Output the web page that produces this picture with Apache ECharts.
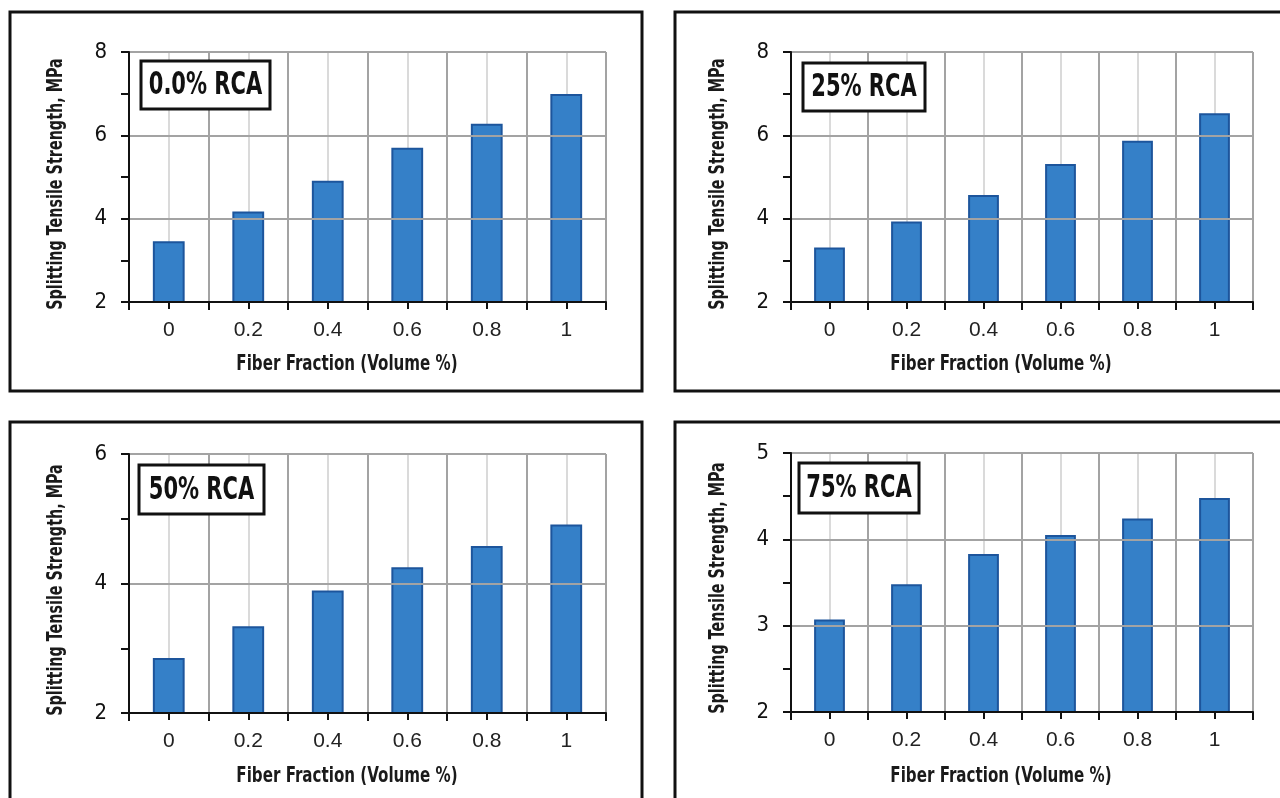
<!DOCTYPE html>
<html>
<head>
<meta charset="utf-8">
<script src="https://cdn.jsdelivr.net/npm/echarts@6/dist/echarts.min.js"></script>
<style>
html,body{margin:0;padding:0;background:#fff;}
#chart{width:1280px;height:798px;}
</style>
</head>
<body>
<div id="chart"></div>
<script>
// ---- data ----
const categories = ['0', '0.2', '0.4', '0.6', '0.8', '1'];
const rca0  = [3.46, 4.17, 4.91, 5.70, 6.28, 6.99];
const rca25 = [3.31, 3.93, 4.57, 5.31, 5.87, 6.53];
const rca50 = [2.85, 3.34, 3.89, 4.25, 4.58, 4.91];
const rca75 = [3.07, 3.48, 3.83, 4.05, 4.24, 4.48];
const panelTitles = ['0.0% RCA', '25% RCA', '50% RCA', '75% RCA'];
const yMin = [2, 2, 2, 2];
const yMax = [8, 8, 6, 5];
const yStep = [2, 2, 2, 1];
const yTitle = 'Splitting Tensile Strength, MPa';
const xTitle = 'Fiber Fraction (Volume %)';

// ---- layout / style ----
const COND = '"DejaVu Sans Condensed", "DejaVu Sans", sans-serif';
const REG = '"Liberation Sans", Arial, Helvetica, sans-serif';
const grids = [
  {left: 129, top: 52, width: 477, height: 250},
  {left: 791, top: 52, width: 462, height: 250},
  {left: 129, top: 454, width: 477, height: 259},
  {left: 791, top: 453, width: 462, height: 259}
];
const frames = [
  {x: 10, y: 12, width: 632, height: 379},
  {x: 675, y: 12, width: 620, height: 379},
  {x: 10, y: 422, width: 632, height: 400},
  {x: 675, y: 422, width: 620, height: 400}
];
const labelBoxes = [
  {x: 141, y: 61, width: 129, height: 48},
  {x: 803, y: 63, width: 122, height: 48},
  {x: 139, y: 465, width: 125, height: 49},
  {x: 799, y: 463, width: 120, height: 50}
];
const yTitlePos = [[57, 184], [719, 184], [57, 590], [719, 588]];
const xTitlePos = [[347, 365], [1001, 365], [347, 777], [1001, 777]];
const seriesData = [rca0, rca25, rca50, rca75];

const graphics = [];
frames.forEach(f => graphics.push({
  type: 'rect', shape: f, silent: true, z: 100,
  style: {fill: 'none', stroke: '#111', lineWidth: 3}
}));
labelBoxes.forEach((b, i) => {
  graphics.push({
    type: 'rect', shape: b, silent: true, z: 100,
    style: {fill: '#fff', stroke: '#111', lineWidth: 3}
  });
  graphics.push({
    type: 'text', x: b.x + b.width / 2, y: b.y + b.height / 2 + 1, scaleX: 0.73, silent: true, z: 101,
    style: {text: panelTitles[i], font: 'bold 32px ' + COND, fill: '#111',
            textAlign: 'center', textVerticalAlign: 'middle'}
  });
});
yTitlePos.forEach(p => graphics.push({
  type: 'text', x: p[0], y: p[1], rotation: Math.PI / 2, scaleX: 0.76, silent: true, z: 101,
  style: {text: yTitle, font: 'bold 21px ' + COND, fill: '#1a1a1a',
          textAlign: 'center', textVerticalAlign: 'middle'}
}));
xTitlePos.forEach(p => graphics.push({
  type: 'text', x: p[0], y: p[1], scaleX: 0.8, silent: true, z: 101,
  style: {text: xTitle, font: 'bold 21px ' + COND, fill: '#1a1a1a',
          textAlign: 'center', textVerticalAlign: 'middle'}
}));

const option = {
  backgroundColor: '#fff',
  animation: false,
  graphic: graphics,
  grid: grids.map(g => Object.assign({containLabel: false}, g)),
  xAxis: [],
  yAxis: [],
  series: []
};

grids.forEach((g, i) => {
  // primary category axis: boundary gridlines + boundary ticks + labels
  option.xAxis.push({
    type: 'category', gridIndex: i, data: categories, position: 'bottom',
    boundaryGap: true,
    axisLine: {lineStyle: {color: '#111', width: 2}},
    axisTick: {show: true, length: 8, lineStyle: {color: '#111', width: 2}},
    axisLabel: {fontFamily: REG, fontSize: 21, color: '#222', margin: 18},
    splitLine: {show: true, lineStyle: {color: '#a3a3a3', width: 2}},
    z: 3
  });
  // secondary category axis: centre gridlines + centre ticks
  option.xAxis.push({
    type: 'category', gridIndex: i, data: categories, position: 'bottom',
    boundaryGap: true,
    axisLine: {show: false},
    axisTick: {show: true, alignWithLabel: true, length: 7, lineStyle: {color: '#111', width: 2}},
    axisLabel: {show: false},
    splitLine: {show: true, alignWithLabel: true, lineStyle: {color: '#dadada', width: 2}},
    z: 1
  });
  option.yAxis.push({
    type: 'value', gridIndex: i, min: yMin[i], max: yMax[i], interval: yStep[i],
    axisLine: {show: true, lineStyle: {color: '#111', width: 2}},
    axisTick: {show: true, length: 8, lineStyle: {color: '#111', width: 2}},
    minorTick: {show: true, splitNumber: 2, length: 8, lineStyle: {color: '#111', width: 2}},
    axisLabel: {fontFamily: COND, fontSize: 22, color: '#111', margin: 22},
    splitLine: {show: true, lineStyle: {color: '#a3a3a3', width: 2}},
    z: 3
  });
  option.series.push({
    type: 'bar', xAxisIndex: i * 2, yAxisIndex: i,
    data: seriesData[i], barWidth: '40%',
    itemStyle: {color: '#3580c8', borderColor: '#1d559c', borderWidth: 2},
    z: 2
  });
});

const chart = echarts.init(document.getElementById('chart'), null, {renderer: 'canvas'});
chart.setOption(option);
</script>
</body>
</html>
